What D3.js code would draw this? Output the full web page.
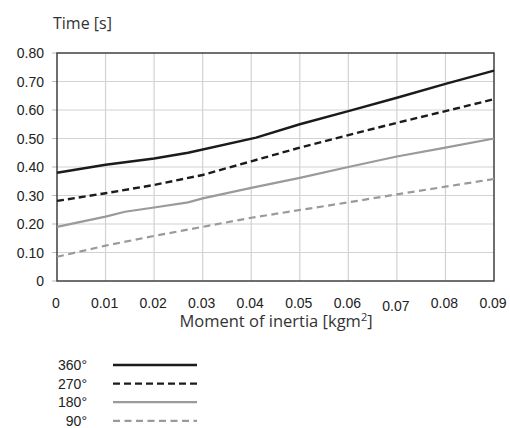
<!DOCTYPE html>
<html>
<head>
<meta charset="utf-8">
<script src="https://cdn.jsdelivr.net/npm/d3@7"></script>
<style>
  body { margin: 0; background: #fff; }
  svg { display: block; }
  .tick-label { font-family: "Liberation Sans", Arial, sans-serif; font-size: 14px; fill: #222; }
  .axis-title { font-family: "Open Sans", "Noto Sans", sans-serif; fill: #333; }
  .legend-label { font-family: "Liberation Sans", Arial, sans-serif; font-size: 14px; fill: #222; }
</style>
</head>
<body>
<div id="chart"></div>
<script>
// data
var xTicks = [0, 0.01, 0.02, 0.03, 0.04, 0.05, 0.06, 0.07, 0.08, 0.09];
var yTicks = [0, 0.1, 0.2, 0.3, 0.4, 0.5, 0.6, 0.7, 0.8];
var seriesNames = ['360°', '270°', '180°', '90°'];

var x360 = [0, 0.01, 0.02, 0.027, 0.041, 0.05, 0.06, 0.07, 0.08, 0.09];
var y360 = [0.38, 0.408, 0.43, 0.45, 0.503, 0.55, 0.596, 0.643, 0.692, 0.738];

var x270 = [0, 0.01, 0.02, 0.03, 0.04, 0.05, 0.06, 0.07, 0.08, 0.09];
var y270 = [0.281, 0.308, 0.337, 0.372, 0.42, 0.468, 0.512, 0.555, 0.596, 0.638];

var x180 = [0, 0.01, 0.014, 0.02, 0.027, 0.03, 0.04, 0.05, 0.06, 0.07, 0.08, 0.09];
var y180 = [0.19, 0.226, 0.243, 0.258, 0.276, 0.29, 0.327, 0.362, 0.4, 0.437, 0.468, 0.5];

var x90 = [0, 0.01, 0.02, 0.03, 0.04, 0.05, 0.06, 0.07, 0.08, 0.09];
var y90 = [0.085, 0.124, 0.158, 0.19, 0.222, 0.249, 0.276, 0.304, 0.331, 0.358];

var styles = [
  { color: '#1b1b1b', width: 2.4, dash: null },
  { color: '#1b1b1b', width: 2.4, dash: '7,4' },
  { color: '#9a9a9a', width: 2.2, dash: null },
  { color: '#9a9a9a', width: 2.2, dash: '7,4.5' },
];

var series = [
  { name: seriesNames[0], xs: x360, ys: y360 },
  { name: seriesNames[1], xs: x270, ys: y270 },
  { name: seriesNames[2], xs: x180, ys: y180 },
  { name: seriesNames[3], xs: x90, ys: y90 },
];

var render = function () {
  var width = 510, height = 428;
  var margins = { top: 53, right: 16, bottom: 147, left: 57 };
  var chartWidth = width - margins.left - margins.right;
  var chartHeight = height - margins.top - margins.bottom;

  var svg = d3.select('#chart').append('svg')
    .attr('width', width)
    .attr('height', height);

  var xScale = d3.scaleLinear().domain([0, 0.09]).range([0, chartWidth]);
  var yScale = d3.scaleLinear().domain([0, 0.8]).range([chartHeight, 0]);

  var g = svg.append('g')
    .attr('transform', `translate(${margins.left},${margins.top})`);

  // gridlines
  g.selectAll('.vgrid').data(xTicks.slice(1, -1)).enter()
    .append('line')
    .attr('x1', d => xScale(d)).attr('x2', d => xScale(d))
    .attr('y1', 0).attr('y2', chartHeight)
    .attr('stroke', '#d2d2d2').attr('stroke-width', 1.2);
  g.selectAll('.hgrid').data(yTicks.slice(1, -1)).enter()
    .append('line')
    .attr('y1', d => yScale(d)).attr('y2', d => yScale(d))
    .attr('x1', 0).attr('x2', chartWidth)
    .attr('stroke', '#d2d2d2').attr('stroke-width', 1.2);

  // small tick stubs left of y axis
  g.selectAll('.ystub').data(yTicks).enter()
    .append('line')
    .attr('y1', d => yScale(d)).attr('y2', d => yScale(d))
    .attr('x1', -5).attr('x2', 0)
    .attr('stroke', '#bbb').attr('stroke-width', 1);

  // frame
  g.append('rect')
    .attr('x', 0).attr('y', 0)
    .attr('width', chartWidth).attr('height', chartHeight)
    .attr('fill', 'none')
    .attr('stroke', '#333').attr('stroke-width', 1.4);

  // tick labels
  g.selectAll('.ylab').data(yTicks).enter()
    .append('text')
    .attr('class', 'tick-label')
    .attr('x', -13)
    .attr('y', d => yScale(d))
    .attr('dy', '0.36em')
    .attr('text-anchor', 'end')
    .text(d => d === 0 ? '0' : d3.format('.2f')(d));

  g.selectAll('.xlab').data(xTicks).enter()
    .append('text')
    .attr('class', 'tick-label')
    .attr('x', d => xScale(d) - 1)
    .attr('y', chartHeight + 27)
    .attr('dy', (d, i) => i === 7 ? 3 : 0)
    .attr('text-anchor', 'middle')
    .text(d => d === 0 ? '0' : d3.format('.2f')(d));

  // lines
  var line = d3.line().x(d => xScale(d[0])).y(d => yScale(d[1]));
  series.forEach(function (s, i) {
    var pts = s.xs.map((v, j) => [v, s.ys[j]]);
    g.append('path')
      .datum(pts)
      .attr('d', line)
      .attr('fill', 'none')
      .attr('stroke', styles[i].color)
      .attr('stroke-width', styles[i].width)
      .attr('stroke-dasharray', styles[i].dash);
  });

  // axis titles
  svg.append('text')
    .attr('class', 'axis-title')
    .attr('font-size', '16px')
    .attr('x', 53).attr('y', 29)
    .text('Time [s]');

  var xt = svg.append('text')
    .attr('class', 'axis-title')
    .attr('font-size', '16.5px')
    .attr('x', 276)
    .attr('y', 327)
    .attr('text-anchor', 'middle');
  xt.append('tspan').text('Moment of inertia [kgm');
  xt.append('tspan').attr('dy', -6).attr('font-size', '11px').text('2');
  xt.append('tspan').attr('dy', 6).text(']');

  // legend
  var legend = svg.append('g').attr('transform', 'translate(0,365)');
  var rows = legend.selectAll('.row').data(series).enter()
    .append('g')
    .attr('transform', (d, i) => `translate(0,${i * 18.6})`);
  rows.append('text')
    .attr('class', 'legend-label')
    .attr('x', 87).attr('y', 0)
    .attr('dy', '0.36em')
    .attr('text-anchor', 'end')
    .text(d => d.name);
  rows.append('line')
    .attr('x1', 113).attr('x2', 197)
    .attr('y1', 0).attr('y2', 0)
    .attr('stroke', (d, i) => styles[i].color)
    .attr('stroke-width', (d, i) => styles[i].width)
    .attr('stroke-dasharray', (d, i) => styles[i].dash);
};

window.onload = render;
</script>
</body>
</html>
